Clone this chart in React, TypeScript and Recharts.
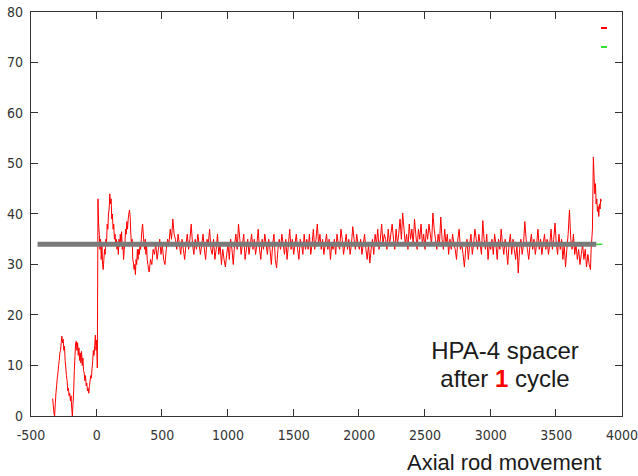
import React from 'react';
import { LineChart, Line, XAxis, YAxis } from 'recharts';

// ---- axis ticks ----
const X_DOMAIN = [-500, 4000];
const Y_DOMAIN = [0, 80];
const X_TICKS = [-500, 0, 500, 1000, 1500, 2000, 2500, 3000, 3500, 4000];
const Y_TICKS = [0, 10, 20, 30, 40, 50, 60, 70, 80];

// ---- red trace: initial low section before the step (x, value) ----
const LOW_SECTION: [number, number][] = [
  [-335, 3.5], [-330, 2], [-325, 0.5], [-320, 0], [-315, 2.5], [-310, 4.5], [-305, 6], [-300, 7.5],
  [-295, 8.5], [-290, 10], [-285, 11], [-280, 12.5], [-275, 13], [-270, 14.5], [-265, 15.8], [-260, 14.5],
  [-255, 15.2], [-250, 13], [-245, 13.8], [-240, 11], [-235, 9.5], [-230, 8], [-225, 7], [-220, 5],
  [-215, 5.5], [-210, 4], [-205, 4.5], [-200, 3], [-195, 4], [-190, 1.5], [-185, 0], [-180, 2.5],
  [-175, 5], [-170, 9], [-165, 12], [-160, 14.5], [-155, 14.8], [-150, 13], [-145, 14.5], [-140, 12],
  [-135, 13.5], [-130, 11], [-125, 12.5], [-120, 10.5], [-115, 12.8], [-110, 10], [-105, 11.5], [-100, 9],
  [-95, 8.5], [-90, 7], [-85, 8], [-80, 6], [-75, 6.5], [-70, 5], [-65, 5.5], [-60, 4.5],
  [-55, 6], [-50, 7], [-45, 8], [-40, 7.5], [-35, 9.5], [-30, 11], [-25, 13], [-20, 12],
  [-15, 14], [-10, 16], [-5, 13], [0, 15], [5, 9.5],
];

// ---- red trace: right after the step ----
const STEP_SECTION: [number, number][] = [
  [10, 43], [15, 38], [20, 36], [25, 33], [30, 35], [35, 31], [40, 34], [45, 30], [50, 29], [55, 31],
  [60, 33], [65, 32], [70, 35], [75, 34], [80, 38], [85, 37], [90, 40], [95, 41], [100, 44], [105, 42],
  [110, 43], [115, 39], [120, 40], [125, 37], [130, 38], [135, 35], [140, 36], [145, 34], [150, 35], [155, 33],
  [160, 34.5], [165, 32], [170, 35], [175, 33.5], [180, 36], [185, 34], [190, 36.5], [195, 33], [200, 34], [205, 31],
  [210, 33], [215, 34], [220, 37], [225, 36], [230, 38.5], [235, 37], [240, 39], [245, 40], [250, 40.8], [255, 39.5],
  [260, 36], [265, 34], [270, 35], [275, 31], [280, 30.3], [285, 29], [290, 30], [295, 28], [300, 31], [305, 30],
  [310, 33], [315, 31], [320, 33], [325, 32], [330, 34], [335, 33], [340, 35], [345, 37], [350, 38], [355, 36],
  [360, 34], [365, 33], [370, 35], [375, 32], [380, 34], [385, 31], [390, 30], [395, 29],
];

// ---- red trace: long plateau, one reading every NOISE_STEP from NOISE_START ----
const NOISE_START = 400;
const NOISE_STEP = 10;
const PLATEAU_VALUES = [
  28.5, 31, 30, 33, 32, 34, 31, 33, 35, 32, 34, 31, 30, 33, 35, 34, 37, 35, 39, 36,
  35, 33, 36, 34, 32, 35, 33, 31, 34, 36, 33, 35, 38, 34, 32, 35, 33, 36, 34, 32,
  34, 36, 33, 31, 35, 34, 37, 33, 32, 35, 31, 33, 36, 32, 34, 30, 33, 31, 29.5, 32,
  34, 31, 35, 33, 30, 34, 36, 33, 38, 35, 32, 34, 36, 31, 33, 35, 32, 34, 36, 33,
  35, 32, 34, 37, 33, 31, 35, 33, 36, 34, 32, 35, 33, 30, 34, 36, 31, 29.3, 33, 35,
  33, 36, 34, 32, 35, 31, 34, 37, 33, 35, 32, 34, 36, 33, 31, 35, 34, 32, 36, 33,
  35, 33, 36, 32, 34, 37, 33, 35, 38, 34, 36, 33, 35, 32, 34, 36, 33, 35, 31, 34,
  33, 35, 32, 36, 34, 33, 37, 35, 32, 34, 36, 33, 35, 32, 34, 37.5, 35, 33, 36, 34,
  33, 35, 32, 34, 36, 33, 31, 34, 30.3, 33, 35, 32, 36, 34, 37, 33, 35, 38, 34, 36,
  35, 33, 37, 34, 36, 38, 35, 33, 37, 34, 36, 39, 35, 40.2, 37, 34, 36, 33, 38, 35,
  37, 34, 39, 36, 33, 37, 35, 38, 34, 36, 33, 37, 35, 38, 36, 34, 40.2, 37, 35, 33,
  36, 34, 39.4, 35, 33, 37, 34, 36, 32, 35, 33, 36, 34, 33, 31, 35, 37, 33, 34, 32,
  29.5, 33, 35, 31, 34, 36, 32, 34, 37, 35, 33, 36, 34, 32, 38.7, 35, 33, 36, 31, 34,
  33, 35, 32, 36, 34, 31, 35, 33, 37, 34, 32, 35, 33, 30, 34, 36, 32, 35, 33, 31,
  34, 28.3, 33, 35, 32, 34, 38.5, 35, 33, 31, 34, 36, 33, 35, 32, 34, 37, 33, 35, 32,
  34, 36, 33, 35, 32, 34, 37, 33, 35, 38.2, 34, 32, 36, 33, 35, 31, 34, 29.5, 33, 36,
  40.8, 35, 33, 36, 32, 34, 31, 33, 30, 32, 34, 31, 33, 29.5, 32, 30,
];

// ---- red trace: final jump ----
const END_SECTION: [number, number][] = [
  [3760, 29], [3765, 33], [3775, 37], [3782, 51.3], [3788, 47], [3793, 44], [3798, 46], [3803, 42],
  [3808, 43], [3813, 40.5], [3818, 41.5], [3823, 39.5], [3828, 42], [3833, 41], [3838, 43], [3842, 42.5],
];

// ---- mean level (grey) and fit continuation (green) ----
const MEAN_LEVEL = 34;
const MEAN_RANGE = [-450, 3805];
const FIT_RANGE = [3805, 3850];

// ---- legend keys (gnuplot-style, no text) ----
const LEGEND_KEYS = [
  { name: 'data', color: '#ff0000' },
  { name: 'fit', color: '#33dd33' },
];

const redData = [
  ...LOW_SECTION,
  ...STEP_SECTION,
  ...PLATEAU_VALUES.map((v, i) => [NOISE_START + i * NOISE_STEP, v] as [number, number]),
  ...END_SECTION,
].map(([x, y]) => ({ x, y }));

const meanData = MEAN_RANGE.map((x) => ({ x, y: MEAN_LEVEL }));
const fitData = FIT_RANGE.map((x) => ({ x, y: MEAN_LEVEL }));

// ---- layout ----
const CHART_W = 638;
const CHART_H = 476;
const MARGIN = { top: 12, right: 16, bottom: 0, left: 0 };
const Y_AXIS_W = 31;
const X_AXIS_H = 60;
const PLOT_L = MARGIN.left + Y_AXIS_W;
const PLOT_T = MARGIN.top;
const PLOT_W = CHART_W - MARGIN.left - MARGIN.right - Y_AXIS_W;
const PLOT_H = CHART_H - MARGIN.top - MARGIN.bottom - X_AXIS_H;

const TICK_FONT = "'Liberation Sans Narrow', 'DejaVu Sans Condensed', 'Arial Narrow', sans-serif";
const AXIS_COLOR = '#333';
const TICK_LEN = 7;
const BOTTOM_GAP = 14;
const LEFT_GAP = 8;

// positions of the frame tick marks along the plot edges (same linear mapping as the axes)
const tickX = (v: number) => PLOT_L + ((v - X_DOMAIN[0]) / (X_DOMAIN[1] - X_DOMAIN[0])) * PLOT_W;
const tickY = (v: number) => PLOT_T + ((Y_DOMAIN[1] - v) / (Y_DOMAIN[1] - Y_DOMAIN[0])) * PLOT_H;

const BottomTick = (p: any) => (
  <text x={p.x} y={p.y} dy="0.71em" textAnchor="middle" fontFamily={TICK_FONT} fontSize={14} fill="#333">
    {p.payload.value}
  </text>
);

const LeftTick = (p: any) => (
  <text x={p.x} y={p.y} dy="0.355em" textAnchor="end" fontFamily={TICK_FONT} fontSize={14} fill="#333">
    {p.payload.value}
  </text>
);

const Frame = () => (
  <div style={{ position: 'absolute', left: 0, top: 0, width: CHART_W, height: CHART_H, pointerEvents: 'none' }}>
    <div
      style={{
        position: 'absolute',
        left: PLOT_L - 1,
        top: PLOT_T - 1,
        width: PLOT_W + 2,
        height: PLOT_H + 2,
        boxSizing: 'border-box',
        border: `1px solid ${AXIS_COLOR}`,
      }}
    />
    {X_TICKS.slice(1, -1).map((v) => (
      <React.Fragment key={'x' + v}>
        <div style={{ position: 'absolute', left: Math.round(tickX(v)) - 1, top: PLOT_T + PLOT_H - TICK_LEN, width: 1, height: TICK_LEN, background: AXIS_COLOR }} />
        <div style={{ position: 'absolute', left: Math.round(tickX(v)) - 1, top: PLOT_T, width: 1, height: TICK_LEN, background: AXIS_COLOR }} />
      </React.Fragment>
    ))}
    {Y_TICKS.slice(1, -1).map((v) => (
      <React.Fragment key={'y' + v}>
        <div style={{ position: 'absolute', left: PLOT_L, top: Math.round(tickY(v)) - 1, width: TICK_LEN, height: 1, background: AXIS_COLOR }} />
        <div style={{ position: 'absolute', left: PLOT_L + PLOT_W - TICK_LEN, top: Math.round(tickY(v)) - 1, width: TICK_LEN, height: 1, background: AXIS_COLOR }} />
      </React.Fragment>
    ))}
  </div>
);

export default function App() {
  return (
    <div style={{ position: 'absolute', left: 0, top: 0, width: CHART_W, height: CHART_H, background: '#fff' }}>
      <LineChart width={CHART_W} height={CHART_H} margin={MARGIN}>
        <XAxis
          xAxisId="b"
          dataKey="x"
          type="number"
          domain={X_DOMAIN}
          ticks={X_TICKS}
          interval={0}
          height={X_AXIS_H}
          tickSize={0}
          tickMargin={BOTTOM_GAP}
          axisLine={false}
          tickLine={false}
          tick={BottomTick}
        />
        <YAxis
          yAxisId="l"
          type="number"
          domain={Y_DOMAIN}
          ticks={Y_TICKS}
          interval={0}
          width={Y_AXIS_W}
          tickSize={0}
          tickMargin={LEFT_GAP}
          axisLine={false}
          tickLine={false}
          tick={LeftTick}
        />
        <Line xAxisId="b" yAxisId="l" data={redData} dataKey="y" name="data" stroke="#ff0000" strokeWidth={1} dot={false} isAnimationActive={false} />
        <Line xAxisId="b" yAxisId="l" data={meanData} dataKey="y" name="mean" stroke="#7a7a7a" strokeWidth={5} dot={false} isAnimationActive={false} />
        <Line xAxisId="b" yAxisId="l" data={fitData} dataKey="y" name="fit" stroke="#33dd33" strokeWidth={1.5} dot={false} isAnimationActive={false} />
      </LineChart>
      <Frame />
      <div style={{ position: 'absolute', left: 601, top: 27, display: 'flex', flexDirection: 'column', gap: 17 }}>
        {LEGEND_KEYS.map((k) => (
          <div key={k.name} style={{ width: 6, height: 2, background: k.color }} />
        ))}
      </div>
      <div
        style={{
          position: 'absolute',
          left: 405,
          top: 337,
          width: 200,
          textAlign: 'center',
          fontFamily: "'Liberation Sans', Arial, sans-serif",
          fontSize: 24,
          lineHeight: '28px',
          color: '#1a1a1a',
        }}
      >
        HPA-4 spacer
        <br />
        after <span style={{ color: '#ff0000', fontWeight: 'bold' }}>1</span> cycle
      </div>
      <div
        style={{
          position: 'absolute',
          left: 407,
          top: 452,
          fontFamily: "'Liberation Sans', Arial, sans-serif",
          fontSize: 22,
          lineHeight: '22px',
          color: '#1a1a1a',
          whiteSpace: 'nowrap',
        }}
      >
        Axial rod movement
      </div>
    </div>
  );
}
